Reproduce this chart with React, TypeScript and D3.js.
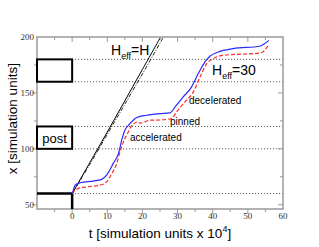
import React, { useEffect, useRef } from "react";
import * as d3 from "d3";

// reference walls / post positions
const postBoxes = [
  [160, 180],
  [100, 120],
];
const dottedLevels = [180, 160, 120, 100, 60];
const baseLevel = 60;

// H_eff = H (solid) and its dash-dot twin
const hSolidT = [0, 5, 10, 15, 20, 25];
const hSolidX = [60, 87.5, 115, 143, 171, 199];
const hDashT = [0, 5, 10, 15, 20, 25.8];
const hDashX = [60, 86, 113, 140, 167, 199];

// H_eff = 30, blue solid
const blueT = [0, 0.2, 0.85, 2.3, 6, 8.4, 9.8, 11.7, 13.2, 14.1, 15, 16, 17.4, 18.4, 21.2, 25, 27.8, 29.3, 31.6, 34, 35.9, 37.8, 39.2, 41.6, 45.8, 53.4, 54.5, 56];
const blueX = [60, 61.6, 67.6, 69.7, 71.2, 72.7, 76.5, 87, 95.9, 107.8, 116.7, 121, 125.6, 128, 130, 131.4, 132.1, 137.5, 146.4, 155.4, 167.3, 177.7, 182.8, 186.6, 189.6, 191.7, 193.5, 197];

// H_eff = 30, red dashed
const redT = [0, 0.4, 1.8, 4.2, 8, 9.8, 11.3, 12.7, 13.6, 14.6, 16, 17, 18.8, 19.3, 22.2, 25, 28.3, 29.7, 32.1, 34.5, 36.4, 38.3, 40.2, 43, 53.4, 54.8, 55.8];
const redX = [60, 61.6, 64.6, 66, 67.6, 70.5, 78, 87, 97.3, 106.3, 115.2, 121, 124.1, 122.9, 125.6, 125.8, 127.1, 133, 142, 150.9, 164.3, 176.2, 180.7, 183.6, 185.7, 188.1, 192.6];

const xTicks = [0, 10, 20, 30, 40, 50, 60];
const yTicks = [50, 100, 150, 200];

const W = 319;
const H = 247;
const left = 37;
const right = 283;
const top = 37;
const bottom = 209;

const App = () => {
  const ref = useRef<SVGSVGElement>(null);

  useEffect(() => {
    const svg = d3.select(ref.current);
    svg.selectAll("*").remove();

    const x = d3.scaleLinear().domain([-10, 60]).range([left, right]);
    const y = d3.scaleLinear().domain([46.2, 200]).range([bottom, top]);
    const axisColor = "#999";

    // dotted guide lines
    svg
      .append("g")
      .selectAll("line")
      .data(dottedLevels)
      .join("line")
      .attr("x1", x(0))
      .attr("x2", x(60))
      .attr("y1", (d) => y(d))
      .attr("y2", (d) => y(d))
      .attr("stroke", "#444")
      .attr("stroke-width", 1)
      .attr("stroke-dasharray", "1,2");

    // frame
    svg
      .append("rect")
      .attr("x", left)
      .attr("y", top)
      .attr("width", right - left)
      .attr("height", bottom - top)
      .attr("fill", "none")
      .attr("stroke", axisColor)
      .attr("stroke-width", 1.5);

    // ticks: bottom (out), top (down), left (out), right (left)
    const xMinor = d3.range(-5, 60, 5);
    const yMinor = d3.range(75, 200, 25);
    const tickG = svg.append("g").attr("stroke", axisColor).attr("stroke-width", 1);
    xMinor.forEach((t) => {
      const len = t % 10 === 0 ? 5 : 3;
      tickG.append("line").attr("x1", x(t)).attr("x2", x(t)).attr("y1", bottom).attr("y2", bottom + len);
      tickG.append("line").attr("x1", x(t)).attr("x2", x(t)).attr("y1", top).attr("y2", top + len);
    });
    yMinor.concat([50]).forEach((v) => {
      const len = v % 50 === 0 ? 5 : 3;
      tickG.append("line").attr("x1", left).attr("x2", left - len).attr("y1", y(v)).attr("y2", y(v));
      tickG.append("line").attr("x1", right).attr("x2", right - len).attr("y1", y(v)).attr("y2", y(v));
    });

    // tick labels
    svg
      .append("g")
      .selectAll("text")
      .data(xTicks)
      .join("text")
      .attr("x", (d) => x(d))
      .attr("y", bottom + 9.5)
      .attr("text-anchor", "middle")
      .attr("font-family", "Liberation Serif")
      .attr("font-size", 9)
      .attr("fill", "#333")
      .text((d) => d);
    svg
      .append("g")
      .selectAll("text")
      .data(yTicks)
      .join("text")
      .attr("x", left - 3)
      .attr("y", (d) => y(d) + 3)
      .attr("text-anchor", "end")
      .attr("font-family", "Liberation Serif")
      .attr("font-size", 9)
      .attr("fill", "#333")
      .text((d) => d);

    // posts
    svg
      .append("g")
      .selectAll("rect")
      .data(postBoxes)
      .join("rect")
      .attr("x", x(-10))
      .attr("y", (d) => y(d[1]))
      .attr("width", x(0) - x(-10))
      .attr("height", (d) => y(d[0]) - y(d[1]))
      .attr("fill", "none")
      .attr("stroke", "black")
      .attr("stroke-width", 2);
    svg
      .append("path")
      .attr("d", `M${x(-10)},${y(baseLevel)}H${x(0)}V${bottom}`)
      .attr("fill", "none")
      .attr("stroke", "black")
      .attr("stroke-width", 2.5);

    const line = d3
      .line<[number, number]>()
      .x((d) => x(d[0]))
      .y((d) => y(d[1]))
      .curve(d3.curveMonotoneX);
    const pts = (ts: number[], xs: number[]) => ts.map((t, i) => [t, xs[i]] as [number, number]);
    const straight = d3
      .line<[number, number]>()
      .x((d) => x(d[0]))
      .y((d) => y(d[1]))
      .curve(d3.curveCatmullRom);

    svg
      .append("path")
      .attr("d", straight(pts(hDashT, hDashX)))
      .attr("fill", "none")
      .attr("stroke", "#222")
      .attr("stroke-width", 1)
      .attr("stroke-dasharray", "4,1.5,1,1.5");
    svg
      .append("path")
      .attr("d", straight(pts(hSolidT, hSolidX)))
      .attr("fill", "none")
      .attr("stroke", "black")
      .attr("stroke-width", 1);
    svg
      .append("path")
      .attr("d", line(pts(redT, redX)))
      .attr("fill", "none")
      .attr("stroke", "#ff2a2a")
      .attr("stroke-width", 1.2)
      .attr("stroke-dasharray", "4,2");
    svg
      .append("path")
      .attr("d", line(pts(blueT, blueX)))
      .attr("fill", "none")
      .attr("stroke", "#2a2aff")
      .attr("stroke-width", 1.2);

    // annotations
    const sans = "Liberation Sans";
    const heff = (px: number, py: number, rhs: string) => {
      const t = svg.append("text").attr("x", px).attr("y", py).attr("font-family", sans).attr("font-size", 14).attr("fill", "black");
      t.append("tspan").text("H");
      t.append("tspan").attr("font-size", 9).attr("dy", 4).text("eff");
      t.append("tspan").attr("dy", -4).text("=" + rhs);
    };
    heff(111, 55, "H");
    heff(212, 75, "30");

    const small = [
      ["decelerated", 189, 104],
      ["pinned", 170, 124.5],
      ["accelerated", 130, 141],
    ] as [string, number, number][];
    small.forEach(([s, px, py]) =>
      svg.append("text").attr("x", px).attr("y", py).attr("font-family", sans).attr("font-size", 10).attr("fill", "black").text(s)
    );

    svg
      .append("text")
      .attr("x", (x(-10) + x(0)) / 2)
      .attr("y", y(110) + 5)
      .attr("text-anchor", "middle")
      .attr("font-family", sans)
      .attr("font-size", 13)
      .text("post");

    // axis titles
    const xt = svg
      .append("text")
      .attr("x", 160)
      .attr("y", 237.5)
      .attr("text-anchor", "middle")
      .attr("font-family", sans)
      .attr("font-size", 13.5)
      .attr("fill", "black");
    xt.append("tspan").text("t [simulation units x 10");
    xt.append("tspan").attr("font-size", 9).attr("dy", -6).text("4");
    xt.append("tspan").attr("dy", 6).text("]");

    svg
      .append("text")
      .attr("transform", `translate(17,${y(127)}) rotate(-90)`)
      .attr("text-anchor", "middle")
      .attr("font-family", sans)
      .attr("font-size", 13.5)
      .attr("fill", "black")
      .text("x [simulation units]");
  }, []);

  return (
    <svg
      ref={ref}
      width={W}
      height={H}
      style={{ position: "absolute", left: 0, top: 0, background: "white" }}
    />
  );
};

export default App;
